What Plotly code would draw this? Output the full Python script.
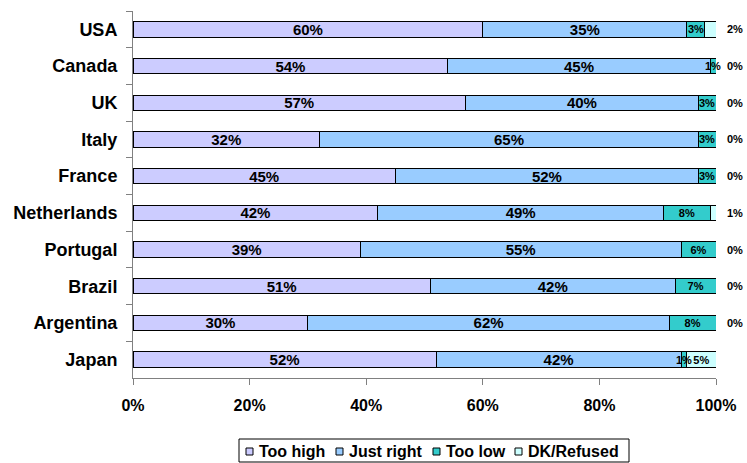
import plotly.graph_objects as go

countries = ["USA", "Canada", "UK", "Italy", "France", "Netherlands",
             "Portugal", "Brazil", "Argentina", "Japan"]
too_high = [60, 54, 57, 32, 45, 42, 39, 51, 30, 52]
just_right = [35, 45, 40, 65, 52, 49, 55, 42, 62, 42]
too_low = [3, 1, 3, 3, 3, 8, 6, 7, 8, 1]
dk_refused = [2, 0, 0, 0, 0, 1, 0, 0, 0, 5]
x_ticks = [0, 20, 40, 60, 80, 100]

FONT = "Liberation Sans, Arial, sans-serif"
W, H = 747, 463
ML, MR, MT, MB = 133, 31, 11, 85
PW, PH = W - ML - MR, H - MT - MB

series = [
    ("Too high", too_high, "#CCCCFF", 15),
    ("Just right", just_right, "#99CCFF", 15),
    ("Too low", too_low, "#33CCCC", 11),
    ("DK/Refused", dk_refused, "#CCFFFF", 11),
]

annotations = []
label_font = dict(family=FONT, size=11, color="black", weight="bold")

fig = go.Figure()
for name, vals, color, fsize in series:
    if name == "Too low":
        # thin segments get their label as a free annotation below
        texts = [f"{v}%" if v >= 5 else "" for v in vals]
    elif name == "DK/Refused":
        # only segments wide enough carry their label inside
        texts = [f"{v}%" if v >= 5 else "" for v in vals]
    else:
        texts = [f"{v}%" for v in vals]
    fig.add_trace(go.Bar(
        y=countries, x=vals, name=name, orientation="h",
        marker=dict(color=color, line=dict(color="black", width=1)),
        text=texts, textposition="inside", insidetextanchor="middle",
        textangle=0, constraintext="none",
        textfont=dict(family=FONT, size=fsize, color="black", weight="bold"),
        hoverinfo="skip", showlegend=False,
    ))

for c, h, j, l, d in zip(countries, too_high, just_right, too_low, dk_refused):
    if l < 5:
        # thin "Too low" segment: label centred on it, spilling over
        annotations.append(dict(
            x=h + j + l / 2, y=c, xref="x", yref="y", text=f"{l}%",
            showarrow=False, xanchor="center", font=label_font,
        ))
    if d < 5:
        # narrow DK/Refused value: label just past the end of the bar
        annotations.append(dict(
            x=h + j + l + d, y=c, xref="x", yref="y", text=f"{d}%",
            showarrow=False, xanchor="left", xshift=9, font=label_font,
        ))


def px_x(p):
    return (p - ML) / PW


def px_y(p):
    return (H - MB - p) / PH


# boxed legend below the axis: small outlined keys followed by bold names
shapes = [dict(type="rect", xref="paper", yref="paper",
               x0=px_x(239), x1=px_x(629), y0=px_y(462), y1=px_y(439),
               line=dict(color="black", width=1), fillcolor="white")]
key_left = [246, 336, 433, 515]
for (name, _, color, _), kx in zip(series, key_left):
    shapes.append(dict(type="rect", xref="paper", yref="paper",
                       x0=px_x(kx), x1=px_x(kx + 7),
                       y0=px_y(455), y1=px_y(448),
                       line=dict(color="black", width=1), fillcolor=color))
    annotations.append(dict(
        x=px_x(kx + 11), y=px_y(451.5), xref="paper", yref="paper",
        text=f"<b>{name}</b>", showarrow=False, xanchor="left",
        yanchor="middle",
        font=dict(family=FONT, size=16, color="black"),
    ))

fig.update_layout(
    barmode="stack",
    bargap=0.58,
    width=W, height=H,
    margin=dict(l=ML, r=MR, t=MT, b=MB, autoexpand=False),
    plot_bgcolor="white", paper_bgcolor="white",
    font=dict(family=FONT, color="black"),
    annotations=annotations,
    shapes=shapes,
    showlegend=False,
    xaxis=dict(
        range=[0, 100], tickvals=x_ticks,
        ticktext=[f"{t}%" for t in x_ticks],
        showgrid=False, zeroline=False,
        showline=True, linecolor="#808080", linewidth=1,
        ticks="outside", ticklen=6, tickcolor="#808080",
        tickfont=dict(family=FONT, size=16, color="black", weight="bold"),
        ticklabelstandoff=7,
    ),
    yaxis=dict(
        autorange="reversed",
        showgrid=False, zeroline=False,
        showline=True, linecolor="#808080", linewidth=1,
        ticks="outside", ticklen=6, tickcolor="#808080",
        tickson="boundaries",
        tickfont=dict(family=FONT, size=18, color="black", weight="bold"),
        ticklabelstandoff=11,
    ),
)

fig.write_html("out.html")
